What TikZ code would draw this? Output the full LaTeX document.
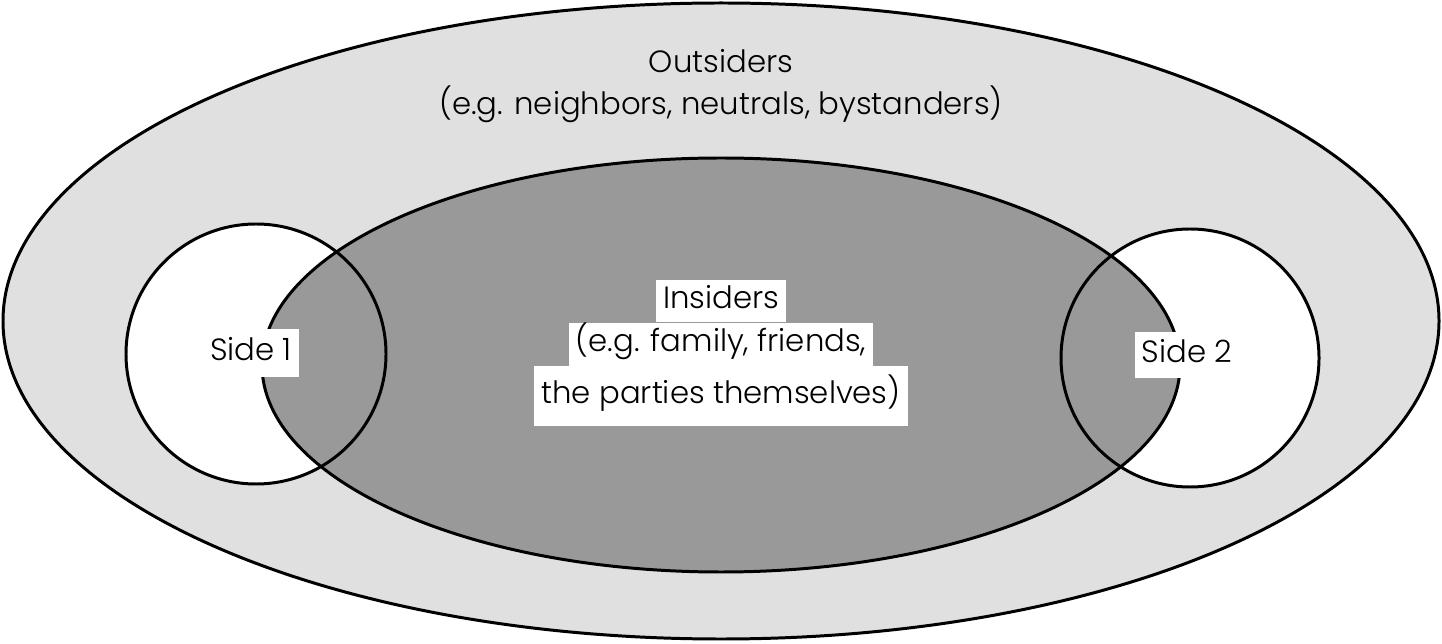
\documentclass[tikz,border=0pt]{standalone}
\usepackage{fontspec}
\setmainfont{Poppins Light}
\begin{document}
\begin{tikzpicture}[x=0.02cm,y=-0.02cm,
  line/.style={line width=1.7pt,draw=black},
  lbl/.style={fill=white,inner xsep=4pt,inner ysep=0pt,font=\fontsize{17.5}{21}\selectfont,text height=12pt,text depth=4pt},
  txt/.style={font=\fontsize{17.5}{21}\selectfont,inner sep=0pt}]
\useasboundingbox (0,0) rectangle (1442,644);
\coordinate (oc) at (721,321);
\coordinate (ic) at (721,365);
\coordinate (l) at (256,354);
\coordinate (r) at (1190,358);
\fill[black!12] (oc) ellipse [x radius=718, y radius=318];
\fill[white] (l) circle [radius=130];
\fill[white] (r) circle [radius=129];
\fill[black!40] (ic) ellipse [x radius=459, y radius=207];
\draw[line] (oc) ellipse [x radius=718, y radius=318];
\draw[line] (ic) ellipse [x radius=459, y radius=207];
\draw[line] (l) circle [radius=130];
\draw[line] (r) circle [radius=129];
\node[txt] (out1) at (721,61) {Outsiders};
\node[txt] (out2) at (721,104) {(e.g. neighbors, neutrals, bystanders)};
\node[lbl,minimum height=23.8pt] (in1) at (721,301) {Insiders};
\node[lbl,anchor=north,minimum height=24.5pt] (in2) at (in1.south) {(e.g. family, friends,};
\node[lbl,anchor=north,minimum height=34pt] (in3) at (in2.south) {the parties themselves)};
\node[lbl,minimum height=27pt] (s1) at (251,353) {Side 1};
\node[lbl,minimum height=26pt] (s2) at (1187,355) {Side 2};
\end{tikzpicture}
\end{document}
